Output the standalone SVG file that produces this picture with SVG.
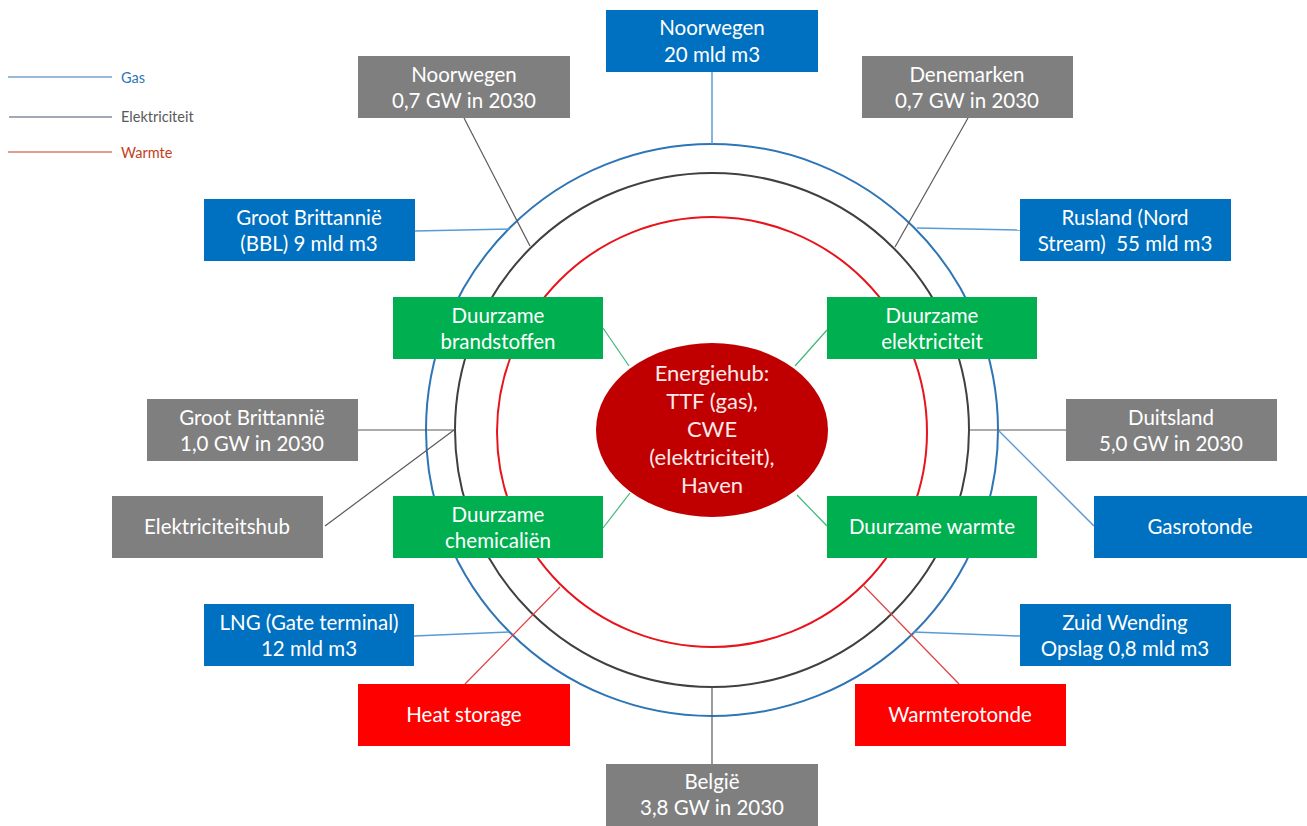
<svg xmlns="http://www.w3.org/2000/svg" width="1307" height="826" viewBox="0 0 1307 826">
<style>
.box text{font-family:Lato,"Liberation Sans",sans-serif;font-size:20.5px;fill:#ffffff;text-anchor:middle}
.blue rect{fill:#0070c0}
.gray rect{fill:#7f7f7f}
.green rect{fill:#00b050}
.red rect{fill:#ff0000}
.gas{stroke:#5b9bd5;stroke-width:1.5;fill:none}
.el{stroke:#595959;stroke-width:1.2;fill:none}
.ht{stroke:#e04040;stroke-width:1.2;fill:none}
.gr{stroke:#3cb878;stroke-width:1.2;fill:none}
.leg{font-family:Lato,"Liberation Sans",sans-serif;font-size:14.5px}
</style>
<rect width="1307" height="826" fill="#ffffff"/>
<g id="legend">
<line x1="8" y1="77" x2="112" y2="77" stroke="#2e75b6" stroke-width="1.2"/>
<text class="leg" x="121" y="83" fill="#2e75b6">Gas</text>
<line x1="9" y1="117" x2="112" y2="117" stroke="#44546a" stroke-width="1.2"/>
<text class="leg" x="121" y="122" fill="#595959">Elektriciteit</text>
<line x1="8" y1="152" x2="112" y2="152" stroke="#c43e1c" stroke-width="1.2"/>
<text class="leg" x="121" y="158" fill="#c43e1c">Warmte</text>
</g>
<g id="rings" fill="none" stroke-width="2">
<circle cx="712" cy="430" r="286" stroke="#2e75b6"/>
<circle cx="712" cy="430" r="257" stroke="#404040"/>
<circle cx="712" cy="432" r="215" stroke="#e8141c"/>
</g>
<g id="connectors">
<line class="gas" x1="712" y1="72" x2="712" y2="144"/>
<line class="gas" x1="415" y1="231" x2="510" y2="229"/>
<line class="gas" x1="917" y1="228" x2="1020" y2="230"/>
<line class="gas" x1="414" y1="636" x2="509" y2="632"/>
<line class="gas" x1="913" y1="632" x2="1020" y2="636"/>
<line class="gas" x1="998" y1="430" x2="1094" y2="526"/>
<line class="el" x1="464" y1="118" x2="530" y2="246"/>
<line class="el" x1="968" y1="118" x2="895" y2="247"/>
<line class="el" x1="358" y1="430" x2="455" y2="430"/>
<line class="el" x1="454" y1="430" x2="325" y2="526"/>
<line class="el" x1="969" y1="430" x2="1066" y2="430"/>
<line class="el" x1="712" y1="687" x2="712" y2="764"/>
<line class="ht" x1="560" y1="587" x2="465" y2="684"/>
<line class="ht" x1="864" y1="586" x2="959" y2="684"/>
<line class="gr" x1="603" y1="328" x2="629" y2="366"/>
<line class="gr" x1="827" y1="330" x2="795" y2="366"/>
<line class="gr" x1="603" y1="528" x2="630" y2="493"/>
<line class="gr" x1="827" y1="526" x2="797" y2="495"/>
</g>
<g id="hub">
<ellipse cx="712" cy="430" rx="116" ry="87" fill="#c00000"/>
<g font-family="Lato,'Liberation Sans',sans-serif" font-size="22px" fill="#fde9e9" text-anchor="middle">
<text x="712" y="381">Energiehub:</text>
<text x="712" y="409">TTF (gas),</text>
<text x="712" y="437">CWE</text>
<text x="712" y="465">(elektriciteit),</text>
<text x="712" y="493">Haven</text>
</g>
</g>
<g id="noorwegen-gas" class="box blue"><rect x="606" y="10" width="212" height="62"/><text x="712" y="35">Noorwegen</text><text x="712" y="62">20 mld m3</text></g>
<g id="noorwegen-el" class="box gray"><rect x="358" y="56" width="212" height="62"/><text x="464" y="82">Noorwegen</text><text x="464" y="108">0,7 GW in 2030</text></g>
<g id="denemarken" class="box gray"><rect x="862" y="56" width="211" height="62"/><text x="967" y="82">Denemarken</text><text x="967" y="108">0,7 GW in 2030</text></g>
<g id="gb-bbl" class="box blue"><rect x="204" y="199" width="211" height="62"/><text x="309" y="225">Groot Brittannië</text><text x="309" y="251">(BBL) 9 mld m3</text></g>
<g id="rusland" class="box blue"><rect x="1020" y="199" width="211" height="62"/><text x="1125" y="225">Rusland (Nord</text><text x="1125" y="251" xml:space="preserve">Stream)  55 mld m3</text></g>
<g id="brandstoffen" class="box green"><rect x="393" y="297" width="210" height="62"/><text x="498" y="323">Duurzame</text><text x="498" y="349">brandstoffen</text></g>
<g id="elektriciteit" class="box green"><rect x="827" y="297" width="210" height="62"/><text x="932" y="323">Duurzame</text><text x="932" y="349">elektriciteit</text></g>
<g id="gb-el" class="box gray"><rect x="147" y="399" width="211" height="62"/><text x="252" y="425">Groot Brittannië</text><text x="252" y="451">1,0 GW in 2030</text></g>
<g id="duitsland" class="box gray"><rect x="1066" y="399" width="211" height="62"/><text x="1171" y="425">Duitsland</text><text x="1171" y="451">5,0 GW in 2030</text></g>
<g id="elektriciteitshub" class="box gray"><rect x="112" y="496" width="211" height="62"/><text x="217" y="534">Elektriciteitshub</text></g>
<g id="chemicalien" class="box green"><rect x="393" y="496" width="210" height="62"/><text x="498" y="522">Duurzame</text><text x="498" y="548">chemicaliën</text></g>
<g id="warmte" class="box green"><rect x="827" y="496" width="210" height="62"/><text x="932" y="534">Duurzame warmte</text></g>
<g id="gasrotonde" class="box blue"><rect x="1094" y="496" width="213" height="62"/><text x="1200" y="534">Gasrotonde</text></g>
<g id="lng" class="box blue"><rect x="204" y="604" width="210" height="62"/><text x="309" y="630">LNG (Gate terminal)</text><text x="309" y="656">12 mld m3</text></g>
<g id="zuid-wending" class="box blue"><rect x="1020" y="604" width="211" height="62"/><text x="1125" y="630">Zuid Wending</text><text x="1125" y="656">Opslag 0,8 mld m3</text></g>
<g id="heat-storage" class="box red"><rect x="358" y="684" width="212" height="62"/><text x="464" y="722">Heat storage</text></g>
<g id="warmterotonde" class="box red"><rect x="855" y="684" width="211" height="62"/><text x="960" y="722">Warmterotonde</text></g>
<g id="belgie" class="box gray"><rect x="606" y="764" width="212" height="62"/><text x="712" y="789">België</text><text x="712" y="815">3,8 GW in 2030</text></g>
</svg>
